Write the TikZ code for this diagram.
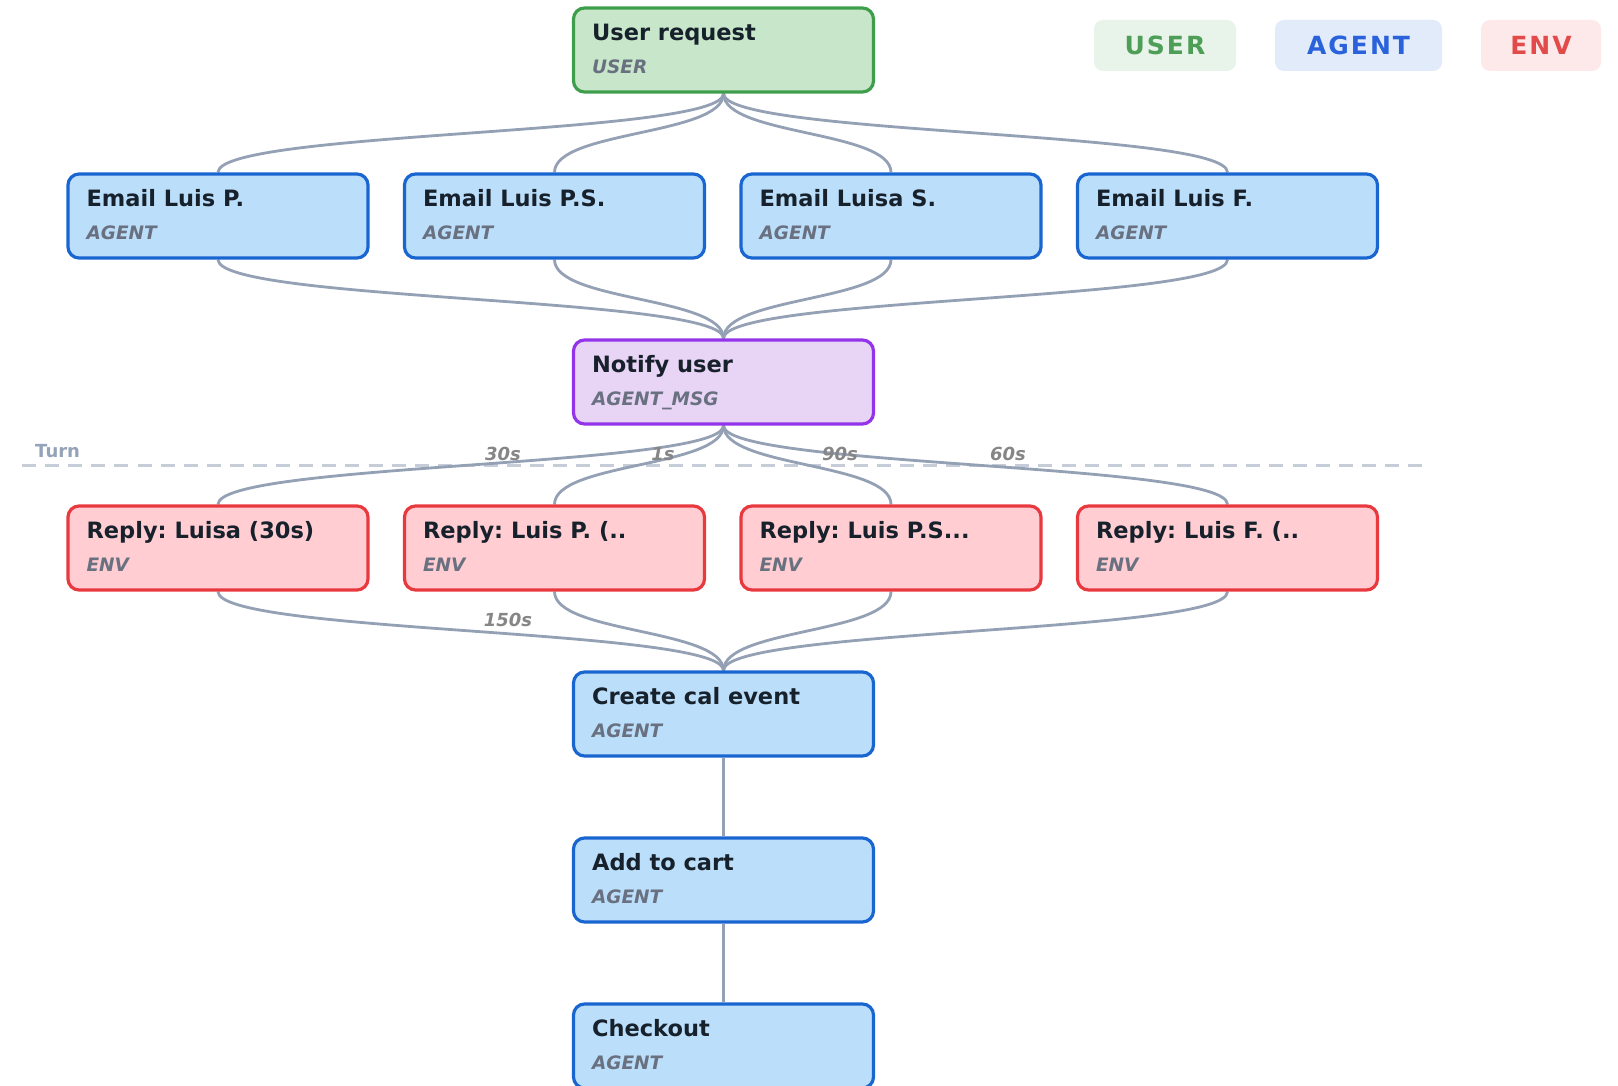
\documentclass[tikz,border=0pt]{standalone}
\usepackage{fontspec}
\setmainfont{DejaVu Sans}
\usetikzlibrary{calc,backgrounds}
\frenchspacing
\definecolor{userfill}{HTML}{C8E6C9}
\definecolor{userdraw}{HTML}{3E9E4C}
\definecolor{agentfill}{HTML}{BBDEFB}
\definecolor{agentdraw}{HTML}{1A66D0}
\definecolor{msgfill}{HTML}{E8D4F5}
\definecolor{msgdraw}{HTML}{9333EA}
\definecolor{envfill}{HTML}{FFCDD2}
\definecolor{envdraw}{HTML}{E8393F}
\definecolor{edgecol}{HTML}{94A0B4}
\definecolor{turncol}{HTML}{C6CDD8}
\definecolor{turntext}{HTML}{94A3B8}
\definecolor{titlecol}{HTML}{17212B}
\definecolor{subcol}{HTML}{697180}
\definecolor{labcol}{HTML}{868686}
\definecolor{lguserbg}{HTML}{E8F3EA}
\definecolor{lgusertx}{HTML}{4E9E58}
\definecolor{lgagentbg}{HTML}{E2EBFA}
\definecolor{lgagenttx}{HTML}{2962DA}
\definecolor{lgenvbg}{HTML}{FDE9E9}
\definecolor{lgenvtx}{HTML}{E34A4A}
\tikzset{
  box/.style={rectangle, rounded corners=11pt, line width=3.2pt,
    minimum width=300pt, minimum height=84pt, inner sep=0pt},
  userbox/.style={box, draw=userdraw, fill=userfill},
  agentbox/.style={box, draw=agentdraw, fill=agentfill},
  msgbox/.style={box, draw=msgdraw, fill=msgfill},
  envbox/.style={box, draw=envdraw, fill=envfill},
  ttl/.style={inner sep=0pt, anchor=base west, text=titlecol,
    font=\fontsize{22.5}{26}\selectfont\bfseries},
  subt/.style={inner sep=0pt, anchor=base west, text=subcol,
    font=\fontsize{18.5}{22}\selectfont\bfseries\itshape},
  link/.style={draw=edgecol, line width=2.8pt},
  elab/.style={inner sep=0pt, text=labcol,
    font=\fontsize{18}{22}\selectfont\bfseries\itshape},
  legend/.style={rectangle, rounded corners=9pt, inner sep=0pt,
    minimum height=51pt,
    font=\fontsize{25}{30}\selectfont\bfseries\addfontfeatures{LetterSpace=8}},
}
\newcommand\fnode[6]{%
  \node[#2] (#1) at (#3,#4) {};
  \node[ttl] (#1-t) at ($(#1.north west)+(20,34.5)$) {#5};
  \node[subt] (#1-s) at ($(#1.north west)+(20,67)$) {#6};
}
\newcommand\curvelink[2]{%
  \path[link] (#1.south) .. controls +(0,42) and +(0,-42) .. (#2.north);
}
\begin{document}
\begin{tikzpicture}[x=1pt,y=-1pt]
\useasboundingbox (0,0) rectangle (1618,1086);

% legend
\node[legend, fill=lguserbg, text=lgusertx, minimum width=142pt] (lgu) at (1165,45.5) {USER};
\node[legend, fill=lgagentbg, text=lgagenttx, minimum width=167pt] (lga) at (1358.5,45.5) {AGENT};
\node[legend, fill=lgenvbg, text=lgenvtx, minimum width=120pt] (lge) at (1541,45.5) {ENV};

% nodes
\fnode{ur}{userbox}{723.5}{50}{User request}{USER}
\fnode{e1}{agentbox}{218}{216}{Email Luis P.}{AGENT}
\fnode{e2}{agentbox}{554.5}{216}{Email Luis P.S.}{AGENT}
\fnode{e3}{agentbox}{891}{216}{Email Luisa S.}{AGENT}
\fnode{e4}{agentbox}{1227.5}{216}{Email Luis F.}{AGENT}
\fnode{nu}{msgbox}{723.5}{382}{Notify user}{AGENT\_MSG}
\fnode{r1}{envbox}{218}{548}{Reply: Luisa (30s)}{ENV}
\fnode{r2}{envbox}{554.5}{548}{Reply: Luis P. (..}{ENV}
\fnode{r3}{envbox}{891}{548}{Reply: Luis P.S...}{ENV}
\fnode{r4}{envbox}{1227.5}{548}{Reply: Luis F. (..}{ENV}
\fnode{ce}{agentbox}{723.5}{714}{Create cal event}{AGENT}
\fnode{ac}{agentbox}{723.5}{880}{Add to cart}{AGENT}
\fnode{co}{agentbox}{723.5}{1046}{Checkout}{AGENT}

% turn line
\coordinate (tl1) at (22,465.5);
\coordinate (tl2) at (1424,465.5);
\node[inner sep=0pt, anchor=base west, text=turntext,
  font=\fontsize{18}{22}\selectfont\bfseries] (turn) at (35,457.5) {Turn};

\begin{scope}[on background layer]
  \draw[turncol, line width=3.3pt, dash pattern=on 14pt off 9.1pt] (tl1) -- (tl2);
  \foreach \c in {e1,e2,e3,e4} {\curvelink{ur}{\c}}
  \foreach \c in {e1,e2,e3,e4} {\curvelink{\c}{nu}}
  \foreach \c in {r1,r2,r3,r4} {\curvelink{nu}{\c}}
  \foreach \c in {r1,r2,r3,r4} {\curvelink{\c}{ce}}
  \path[link] (ce.south) -- (ac.north);
  \path[link] (ac.south) -- (co.north);
\end{scope}

% edge labels
\node[elab] (l30) at (503,454) {30s};
\node[elab] (l1) at (663,454) {1s};
\node[elab] (l90) at (840,454) {90s};
\node[elab] (l60) at (1008,454) {60s};
\node[elab] (l150) at (508,620) {150s};
\end{tikzpicture}
\end{document}
